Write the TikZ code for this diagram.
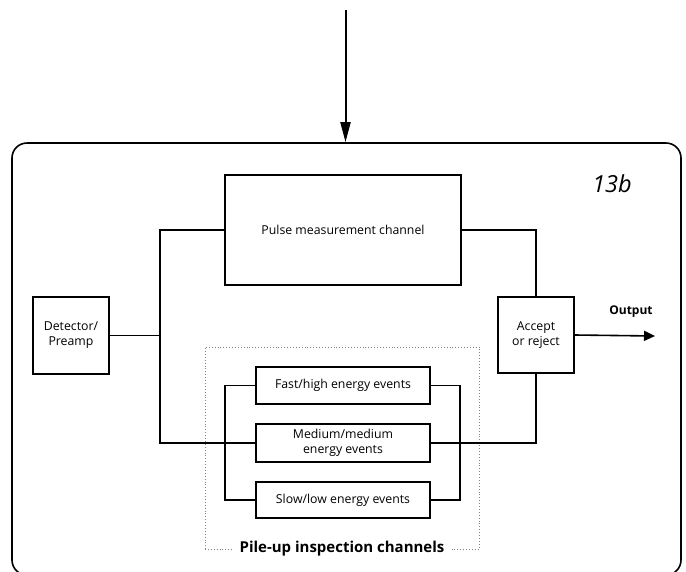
\documentclass[tikz,border=0pt]{standalone}
\usepackage{fontspec}
\setmainfont{Open Sans}
\usetikzlibrary{arrows.meta}
\begin{document}
\begin{tikzpicture}[x=1pt,y=-1pt,line width=1.6pt,
  blk/.style={draw,line width=1.6pt,inner sep=0pt,align=center,font=\fontsize{12.3}{15}\selectfont},
  lbl/.style={inner sep=1pt,font=\bfseries\fontsize{12}{14}\selectfont}]
\useasboundingbox (0,0) rectangle (686,571);
\clip (0,0) rectangle (686,571);
% outer frame
\node[draw,line width=1.6pt,rounded corners=15pt,minimum width=669pt,minimum height=432pt,inner sep=0pt] (frame) at (346.5,359) {};
\coordinate (top) at (345.5,10);
\draw[line width=2pt,-{Triangle[length=20pt,width=10pt]}] (top) -- (top |- frame.north);
\node[font=\itshape\fontsize{23.5}{27}\selectfont] (tag) at (612,184) {13b};
% blocks
\node[blk,minimum width=236pt,minimum height=110pt] (pulse) at (343,230) {Pulse measurement channel};
\node[blk,minimum width=76pt,minimum height=77pt] (det) at (71,335.5) {Detector/\\Preamp};
\node[blk,minimum width=76pt,minimum height=76pt] (acc) at (536,335) {Accept\\or reject};
\node[blk,minimum width=174pt,minimum height=37pt] (fast) at (343,385.5) {Fast/high energy events};
\node[blk,minimum width=174pt,minimum height=38pt] (med) at (343,443) {Medium/medium\\energy events};
\node[blk,minimum width=174pt,minimum height=36pt] (slow) at (343,500) {Slow/low energy events};
% pile-up region
\node[draw=gray,dotted,line width=0.9pt,minimum width=274pt,minimum height=202pt,inner sep=0pt] (pile) at (342,448) {};
\node[lbl,fill=white,inner xsep=6pt,font=\bfseries\fontsize{15}{17}\selectfont] (pilelbl) at (342,549) {Pile-up inspection channels};
% connectors
\coordinate (jl) at (160,0);
\coordinate (bl) at (225,0);
\coordinate (br) at (460,0);
\coordinate (out) at (655,336);
\draw (det.east) -- (det.east -| jl);
\draw (pulse.west) -| (jl |- med.west) -- (med.west);
\draw (pulse.east) -| (acc.north);
\draw (med.east) -| (acc.south);
\draw (fast.west) -| (bl |- slow.west) -- (slow.west);
\draw (fast.east) -| (br |- slow.east) -- (slow.east);
\draw[-{Triangle[length=11pt,width=10pt]}] (acc.east) -- (out);
\node[lbl] (outlbl) at (631,312) {Output};
\end{tikzpicture}
\end{document}
